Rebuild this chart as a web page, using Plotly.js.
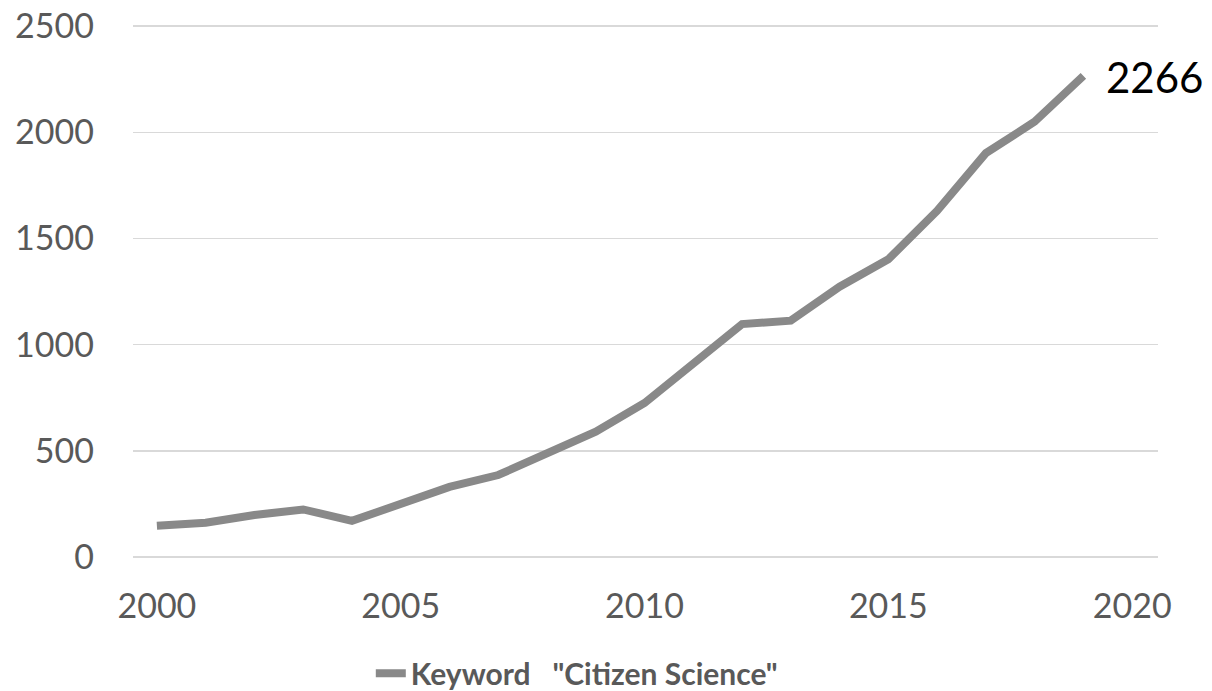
<!DOCTYPE html>
<html>
<head>
<meta charset="utf-8">
<script src="https://cdn.plot.ly/plotly-3.0.1.min.js"></script>
<style>html,body{margin:0;padding:0;background:#fff;}#chart{width:1212px;height:691px;}</style>
</head>
<body>
<div id="chart"></div>
<script>
const years = [2000,2001,2002,2003,2004,2005,2006,2007,2008,2009,2010,2011,2012,2013,2014,2015,2016,2017,2018,2019];
const counts = [147,161,198,224,170,250,330,386,485,590,725,913,1097,1113,1273,1402,1630,1902,2050,2266];
const seriesName = 'Keyword   "Citizen Science"';
const xTicks = [2000,2005,2010,2015,2020];
const yTicks = [0,500,1000,1500,2000,2500];

const trace = {
  x: years, y: counts, type: 'scatter', mode: 'lines', name: seriesName,
  line: {color: '#898989', width: 8}
};
const lastIdx = years.length - 1;
const layout = {
  width: 1212, height: 691,
  margin: {l: 133, r: 54, t: 24, b: 134, autoexpand: false},
  paper_bgcolor: '#fff', plot_bgcolor: '#fff',
  font: {family: 'Lato, "Open Sans", sans-serif', color: '#595959'},
  showlegend: true,
  legend: {orientation: 'h', x: 0.232, xanchor: 'left', y: -0.218, yanchor: 'middle',
           font: {size: 30, color: '#595959', family: 'Lato, sans-serif', weight: 'bold'}},
  xaxis: {range: [1999.51, 2020.53], tickvals: xTicks, ticktext: xTicks.map(String),
          showgrid: false, zeroline: false, showline: false, ticks: '',
          tickfont: {size: 34, color: '#595959'}, ticklabelstandoff: 26},
  yaxis: {range: [0, 2510], tickvals: yTicks, ticktext: yTicks.map(String),
          showgrid: true, gridcolor: '#d9d9d9', gridwidth: 1.5, zeroline: true,
          zerolinecolor: '#d9d9d9', zerolinewidth: 1.5, showline: false, ticks: '',
          tickfont: {size: 34, color: '#595959'}, ticklabelstandoff: 38},
  annotations: [{x: years[lastIdx], y: counts[lastIdx], xref: 'x', yref: 'y',
                 text: String(counts[lastIdx]), showarrow: false, xanchor: 'left', yanchor: 'middle',
                 xshift: 21, yshift: -1, font: {size: 42, color: '#000', family: 'Lato, sans-serif'}}]
};
Plotly.newPlot('chart', [trace], layout, {staticPlot: true, displayModeBar: false});
</script>
</body>
</html>
